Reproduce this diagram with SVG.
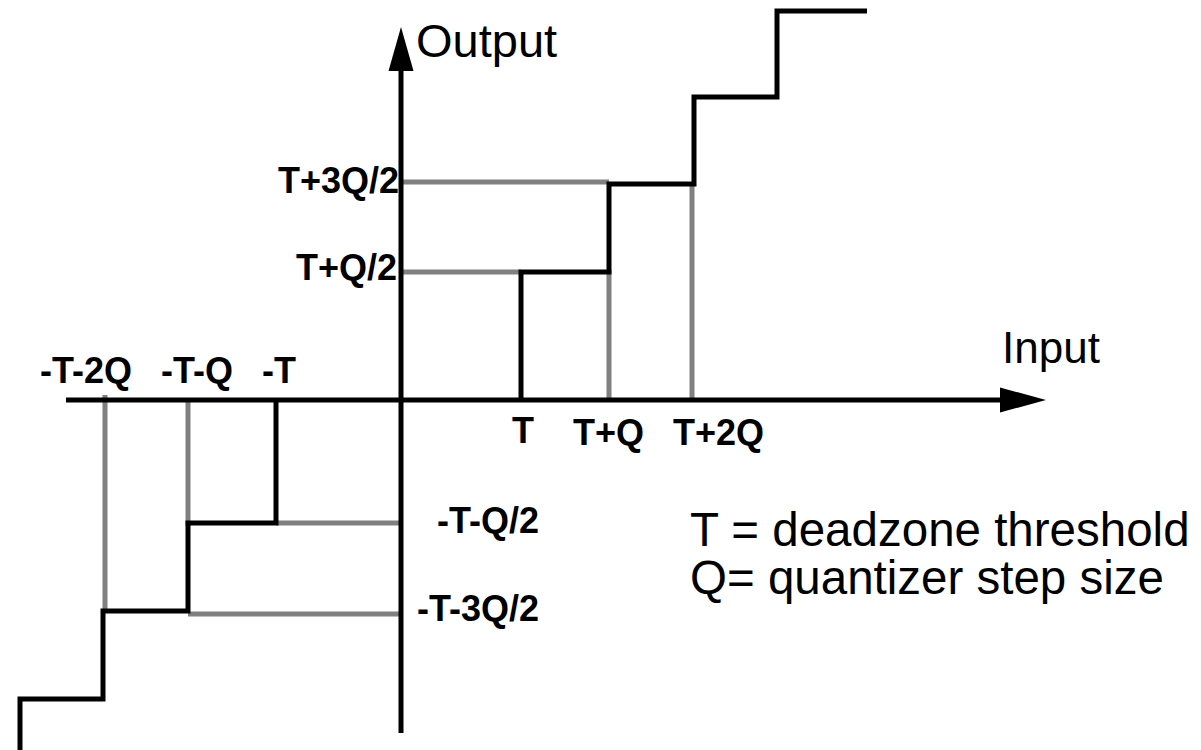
<svg xmlns="http://www.w3.org/2000/svg" width="1201" height="750" viewBox="0 0 1201 750">
<style>
.ax{stroke:#000;stroke-width:5;fill:none}
.blk{stroke:#000;stroke-width:5;fill:none;stroke-linejoin:miter;stroke-linecap:butt}
.gry{stroke:#808080;stroke-width:5;fill:none}
.lbl{font-family:"Liberation Sans",Arial,sans-serif;font-weight:bold;font-size:36px;fill:#000}
.big{font-family:"Liberation Sans",Arial,sans-serif;font-size:47px;fill:#000}
</style>
<rect width="1201" height="750" fill="#fff"/>
<g id="guides">
<line class="gry" x1="401" y1="182" x2="609" y2="182"/>
<line class="gry" x1="401" y1="272" x2="521" y2="272"/>
<line class="gry" x1="609" y1="400" x2="609" y2="270"/>
<line class="gry" x1="692" y1="400" x2="692" y2="182"/>
<line class="gry" x1="276" y1="523" x2="400" y2="523"/>
<line class="gry" x1="188" y1="614" x2="400" y2="614"/>
<line class="gry" x1="188" y1="400" x2="188" y2="526"/>
<line class="gry" x1="105" y1="395" x2="105" y2="611"/>
</g>
<g id="staircase">
<path class="blk" d="M521,400 V272 H609 V184 H694 V97 H777 V11 H867"/>
<path class="blk" d="M276,400 V523 H188 V611 H103 V699 H20 V750"/>
</g>
<g id="axes">
<line class="ax" x1="66" y1="400" x2="1002" y2="400"/>
<polygon points="1000,387.5 1046,400 1000,412.5" fill="#000"/>
<line class="ax" x1="401" y1="733" x2="401" y2="69"/>
<polygon points="388.5,71 401,27 413.5,71" fill="#000"/>
</g>
<g id="labels">
<text class="big" x="416" y="57">Output</text>
<text class="big" x="1002" y="363" style="font-size:44px">Input</text>
<text class="lbl" x="399" y="193" text-anchor="end">T+3Q/2</text>
<text class="lbl" x="397" y="280" text-anchor="end">T+Q/2</text>
<text class="lbl" x="539" y="533" text-anchor="end">-T-Q/2</text>
<text class="lbl" x="539" y="621" text-anchor="end">-T-3Q/2</text>
<text class="lbl" x="40" y="383">-T-2Q</text>
<text class="lbl" x="161" y="383">-T-Q</text>
<text class="lbl" x="262" y="383">-T</text>
<text class="lbl" x="512" y="443">T</text>
<text class="lbl" x="573" y="445">T+Q</text>
<text class="lbl" x="673" y="445">T+2Q</text>
<text class="big" x="690" y="546" style="font-size:47.5px">T = deadzone threshold</text>
<text class="big" x="690" y="594" style="font-size:47.5px">Q= quantizer step size</text>
</g>
</svg>
